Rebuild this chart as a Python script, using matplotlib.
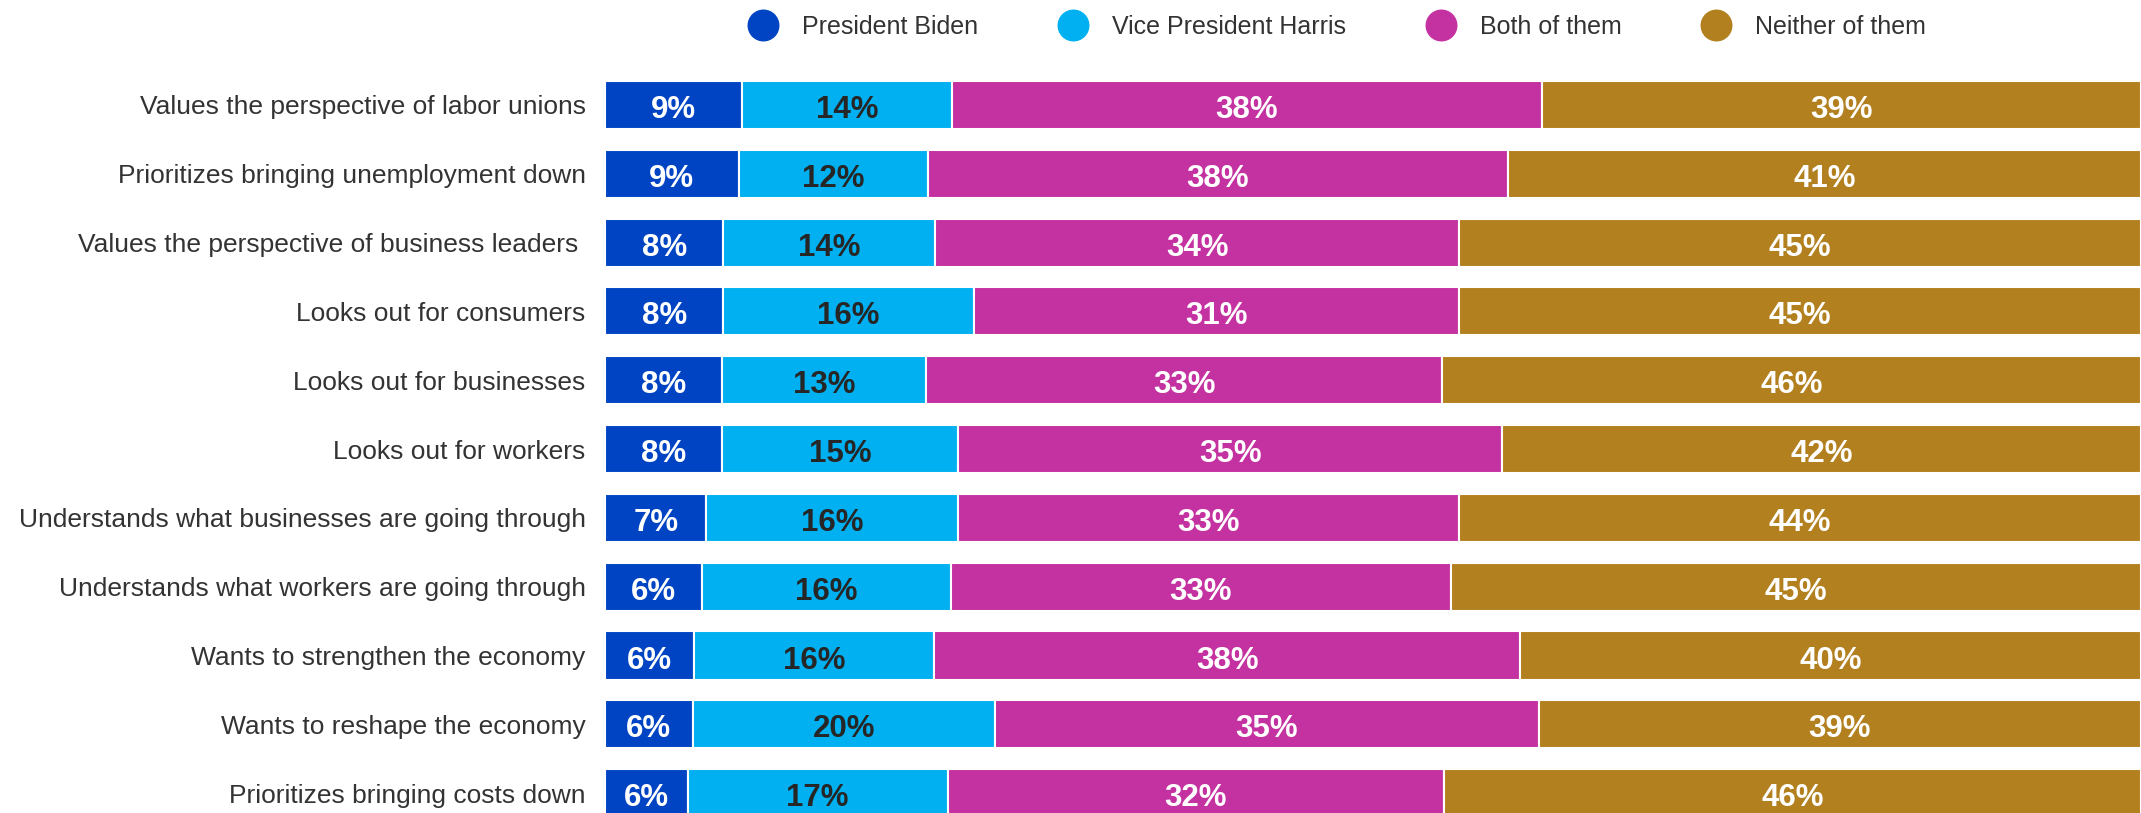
import matplotlib
matplotlib.use("Agg")
from matplotlib import pyplot as plt
import numpy as np

plt.rcParams['font.family'] = ['Liberation Sans', 'DejaVu Sans']

categories = ['Values the perspective of labor unions',
              'Prioritizes bringing unemployment down',
              'Values the perspective of business leaders ',
              'Looks out for consumers',
              'Looks out for businesses',
              'Looks out for workers',
              'Understands what businesses are going through',
              'Understands what workers are going through',
              'Wants to strengthen the economy',
              'Wants to reshape the economy',
              'Prioritizes bringing costs down']

series = ['President Biden', 'Vice President Harris', 'Both of them', 'Neither of them']

# bar widths (percent)
biden = [8.9, 8.7, 7.7, 7.7, 7.6, 7.6, 6.6, 6.3, 5.8, 5.7, 5.4]
harris = [13.7, 12.3, 13.8, 16.3, 13.3, 15.4, 16.4, 16.2, 15.6, 19.7, 16.9]
both = [38.4, 37.8, 34.1, 31.6, 33.6, 35.4, 32.6, 32.6, 38.2, 35.4, 32.3]
neither = [39.0, 41.2, 44.4, 44.4, 45.5, 41.6, 44.4, 44.9, 40.4, 39.2, 45.4]

# printed labels (percent)
biden_lbl = [9, 9, 8, 8, 8, 8, 7, 6, 6, 6, 6]
harris_lbl = [14, 12, 14, 16, 13, 15, 16, 16, 16, 20, 17]
both_lbl = [38, 38, 34, 31, 33, 35, 33, 33, 38, 35, 32]
neither_lbl = [39, 41, 45, 45, 46, 42, 44, 45, 40, 39, 46]

colors = ['#0044C3', '#00B0F0', '#C431A0', '#B3801F']
text_colors = ['white', '#262626', 'white', 'white']

fig = plt.figure(figsize=(21.41, 8.13), dpi=100)
ax = fig.add_axes([605 / 2141, 0, 1 - 605 / 2141, 1])

y = np.arange(len(categories))
left = np.zeros(len(categories))
for vals, lbls, name, c, tc in zip([biden, harris, both, neither],
                                   [biden_lbl, harris_lbl, both_lbl, neither_lbl],
                                   series, colors, text_colors):
    vals = np.array(vals)
    ax.barh(y, vals, left=left, height=0.70, color=c, label=name,
            edgecolor='white', linewidth=1.5)
    # percent text sits on a baseline just under the bar middle
    for yi, x0, w, lb in zip(y, left, vals, lbls):
        ax.text(x0 + w / 2, yi + 0.19, f'{lb}%', ha='center', va='baseline',
                color=tc, fontsize=22.5, fontweight='bold')
    left += vals

ax.set_xlim(0, 100)
ax.set_ylim(10.29, -1.526)
ax.set_yticks(y)
ax.set_yticklabels(categories, fontsize=19, color='#333333')
ax.tick_params(axis='y', length=0, pad=14)
ax.set_xticks([])
for s in ax.spines.values():
    s.set_visible(False)

fig.legend(loc='center', bbox_to_anchor=(0.625, 0.967), ncol=4, frameon=False,
           fontsize=18, labelcolor='#333333', handles=[
               plt.Line2D([], [], marker='o', ls='', color=c, markersize=22, label=n)
               for c, n in zip(colors, series)],
           columnspacing=3.3, handletextpad=1.06, handlelength=1.0)

plt.savefig('out.png', dpi=100)
